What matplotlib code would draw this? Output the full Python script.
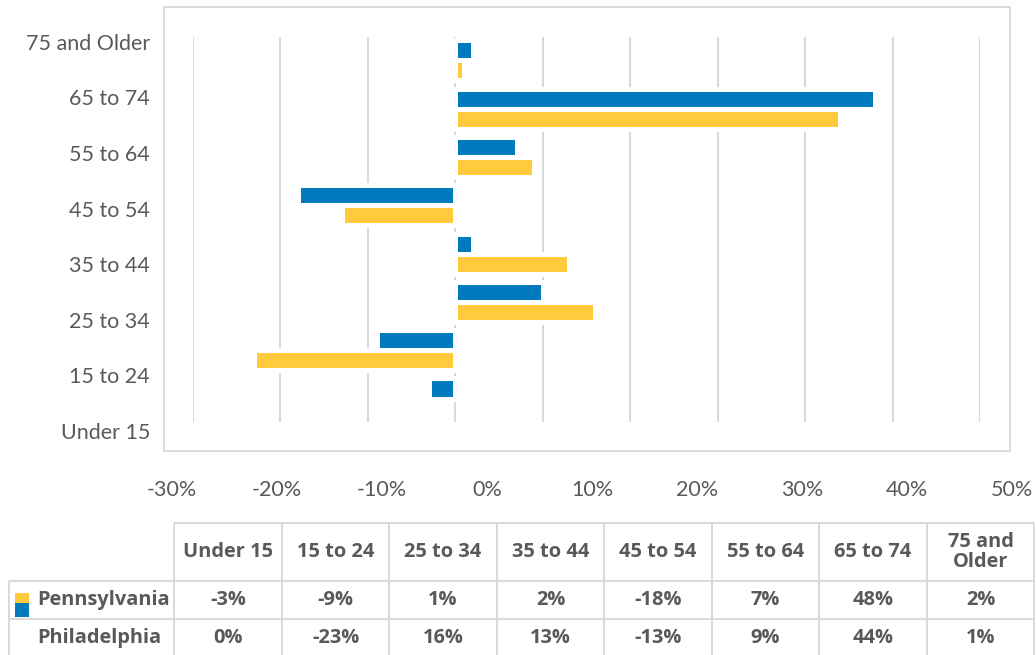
import matplotlib

matplotlib.use("Agg")

import matplotlib.pyplot as plt
from matplotlib.patches import Rectangle
import numpy as np

# bar lengths as drawn in the chart (percent)
categories = ["Under 15", "15 to 24", "25 to 34", "35 to 44",
              "45 to 54", "55 to 64", "65 to 74", "75 and Older"]
pennsylvania = [-3, -9, 10, 2, -18, 7, 48, 2]
philadelphia = [0, -23, 16, 13, -13, 9, 44, 1]

# data table text as printed under the chart
header_labels = ["Under 15", "15 to 24", "25 to 34", "35 to 44",
                 "45 to 54", "55 to 64", "65 to 74", "75 and\nOlder"]
penn_table = ["-3%", "-9%", "1%", "2%", "-18%", "7%", "48%", "2%"]
phila_table = ["0%", "-23%", "16%", "13%", "-13%", "9%", "44%", "1%"]
row_labels = ["Pennsylvania", "Philadelphia"]

grid_ticks = list(range(-30, 61, 10))
axis_ticks = list(range(-30, 51, 10))

BLUE = "#0079BF"
YELLOW = "#FFCB3D"
GRID = "#D9D9D9"
TEXT = "#595959"

plt.rcParams["font.family"] = ["Lato", "DejaVu Sans"]
BOLD_FAMILY = ["Open Sans", "DejaVu Sans"]

W, H = 1036, 655
fig = plt.figure(figsize=(W / 100, H / 100), dpi=100)


def px_axes(x0, y0, x1, y1):
    return fig.add_axes([x0 / W, 1 - y1 / H, (x1 - x0) / W, (y1 - y0) / H])


# plot area border
box = px_axes(164, 7, 1010, 451)
box.set_xticks([])
box.set_yticks([])
for s in box.spines.values():
    s.set_color(GRID)
    s.set_linewidth(1.3)
box.patch.set_alpha(0)

# bars
ax = px_axes(193, 37, 980, 422)
ax.patch.set_alpha(0)
ax.set_xlim(-30, 60)
ax.set_ylim(-0.4865, 7.484)
for t in grid_ticks:
    ax.axvline(t, color=GRID, lw=1.5, zorder=0)
y = np.arange(len(categories))
h = 20 / 48.3
ax.barh(y + h / 2, pennsylvania, height=h, color=BLUE, edgecolor="white",
        linewidth=[3.6 if v else 0 for v in pennsylvania], zorder=2)
ax.barh(y - h / 2, philadelphia, height=h, color=YELLOW, edgecolor="white",
        linewidth=[3.6 if v else 0 for v in philadelphia], zorder=2)
ax.set_xticks([])
ax.set_yticks([])
for s in ax.spines.values():
    s.set_visible(False)

# category labels
lab = px_axes(150, 41.7, 151, 431)
lab.patch.set_alpha(0)
lab.set_ylim(0, 7)
lab.set_yticks(y)
lab.set_yticklabels(categories, fontsize=15.5, color=TEXT)
lab.tick_params(axis="y", length=0, pad=0)
lab.set_xticks([])
for s in lab.spines.values():
    s.set_visible(False)

# value axis labels
xl = px_axes(172, 489, 1012, 490)
xl.patch.set_alpha(0)
xl.set_xlim(-30, 50)
xl.set_xticks(axis_ticks)
xl.set_xticklabels([f"{t}%" for t in axis_ticks], fontsize=15.5, color=TEXT)
for t in xl.get_xticklabels():
    t.set_va("center")
xl.tick_params(axis="x", length=0, pad=0)
xl.set_yticks([])
for s in xl.spines.values():
    s.set_visible(False)

# data table
tb = px_axes(0, 500, W, H)
tb.set_xlim(0, W)
tb.set_ylim(H, 500)
tb.axis("off")
col0 = 174.3
cw = 107.5
edges = [col0 + cw * k for k in range(9)]
top, mid1, mid2 = 523.3, 581, 619.3
lw = 1.4
tb.hlines(top, col0, edges[-1], color=GRID, lw=lw)
tb.hlines([mid1, mid2], 8.5, edges[-1], color=GRID, lw=lw)
tb.vlines(8.5, mid1, H, color=GRID, lw=lw)
tb.vlines(edges, top, H, color=GRID, lw=lw)

fs = 14.4
tfont = dict(fontsize=fs, fontweight="bold", color=TEXT, family=BOLD_FAMILY,
             ha="center", va="center")
for k in range(8):
    cx = col0 + cw * (k + 0.5)
    tb.text(cx, 552, header_labels[k], linespacing=1.0, **tfont)
    tb.text(cx, 600, penn_table[k], **tfont)
    tb.text(cx, 638, phila_table[k], **tfont)
rfont = dict(tfont, ha="left")
tb.text(37, 600, row_labels[0], **rfont)
tb.text(37, 638, row_labels[1], **rfont)
tb.add_patch(Rectangle((15, 593), 14, 10, color=YELLOW, lw=0))
tb.add_patch(Rectangle((15, 603), 14, 14, color=BLUE, lw=0))

fig.savefig("out.png", dpi=100)
